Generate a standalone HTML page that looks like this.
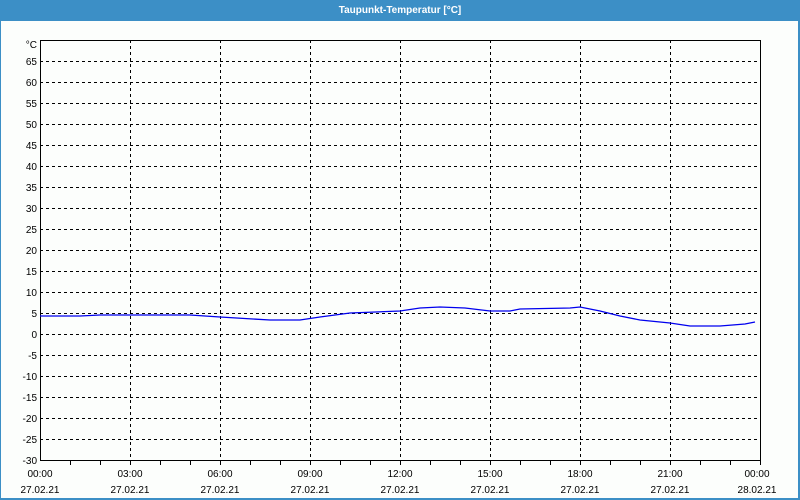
<!DOCTYPE html>
<html><head><style>
html,body{margin:0;padding:0;width:800px;height:500px;overflow:hidden;background:#3c8fc6;font-family:"Liberation Sans",sans-serif}
svg{display:block}
</style></head><body>
<svg width="800" height="500" xmlns="http://www.w3.org/2000/svg" font-family="Liberation Sans, sans-serif" font-size="10">
<rect x="0" y="0" width="800" height="500" fill="#3c8fc6"/>
<rect x="1" y="21" width="797" height="477" fill="#fcfefc"/>
<text x="400" y="13" text-anchor="middle" fill="#fff" font-weight="bold" font-size="10">Taupunkt-Temperatur [°C]</text>
<g stroke="#000" stroke-dasharray="3,3" stroke-width="1">
<path d="M40 61.5H760M40 82.5H760M40 103.5H760M40 124.5H760M40 145.5H760M40 166.5H760M40 187.5H760M40 208.5H760M40 229.5H760M40 250.5H760M40 271.5H760M40 292.5H760M40 313.5H760M40 334.5H760M40 355.5H760M40 376.5H760M40 397.5H760M40 418.5H760M40 439.5H760"/>
<path d="M130.5 40V460M220.5 40V460M310.5 40V460M400.5 40V460M490.5 40V460M580.5 40V460M670.5 40V460"/>
</g>
<rect x="40.5" y="40.5" width="720" height="420" fill="none" stroke="#000"/>
<g stroke="#000"><path d="M70.5 460v5M100.5 460v5M130.5 460v5M160.5 460v5M190.5 460v5M220.5 460v5M250.5 460v5M280.5 460v5M310.5 460v5M340.5 460v5M370.5 460v5M400.5 460v5M430.5 460v5M460.5 460v5M490.5 460v5M520.5 460v5M550.5 460v5M580.5 460v5M610.5 460v5M640.5 460v5M670.5 460v5M700.5 460v5M730.5 460v5M760.5 460v5"/></g>
<polyline fill="none" stroke="#0000ee" stroke-width="1.3" points="40,316 80,316 100,315 190,315 220,317 270,320 300,320 320,317 350,313 400,311 420,308 440,307 465,308 490,311 510,311 520,309 570,308 580,307 590,309 600,311 620,316 640,320 670,323 690,326 720,326 745,324 755,322"/>
<g text-anchor="end" fill="#000">
<text x="37" y="48">°C</text>
<text x="37" y="65">65</text><text x="37" y="86">60</text><text x="37" y="107">55</text><text x="37" y="128">50</text><text x="37" y="149">45</text><text x="37" y="170">40</text><text x="37" y="191">35</text><text x="37" y="212">30</text><text x="37" y="233">25</text><text x="37" y="254">20</text><text x="37" y="275">15</text><text x="37" y="296">10</text><text x="37" y="317">5</text><text x="37" y="338">0</text><text x="37" y="359">-5</text><text x="37" y="380">-10</text><text x="37" y="401">-15</text><text x="37" y="422">-20</text><text x="37" y="443">-25</text><text x="37" y="464">-30</text>
</g>
<g text-anchor="middle" fill="#000">
<text x="40" y="477">00:00</text><text x="130" y="477">03:00</text><text x="220" y="477">06:00</text><text x="310" y="477">09:00</text><text x="400" y="477">12:00</text><text x="490" y="477">15:00</text><text x="580" y="477">18:00</text><text x="670" y="477">21:00</text><text x="757" y="477">00:00</text>
<text x="40" y="493">27.02.21</text><text x="130" y="493">27.02.21</text><text x="220" y="493">27.02.21</text><text x="310" y="493">27.02.21</text><text x="400" y="493">27.02.21</text><text x="490" y="493">27.02.21</text><text x="580" y="493">27.02.21</text><text x="670" y="493">27.02.21</text><text x="757" y="493">28.02.21</text>
</g>
</svg>
</body></html>
